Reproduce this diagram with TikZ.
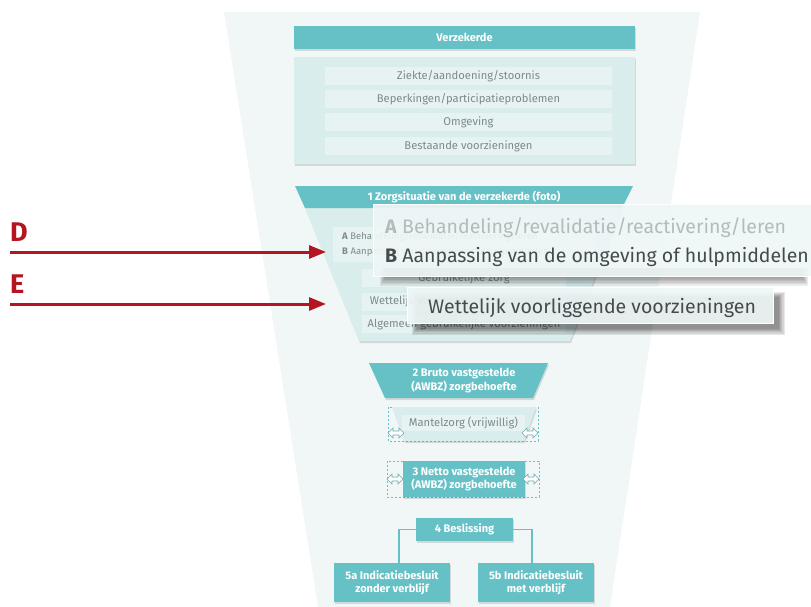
\documentclass[tikz,border=0pt]{standalone}
\usepackage{fontspec}
\setmainfont{Fira Sans}
\usetikzlibrary{shadows,arrows.meta,calc}
\definecolor{zteal}{HTML}{66C1C6}
\definecolor{zpanel}{HTML}{D9EDED}
\definecolor{zrow}{HTML}{E7F3F3}
\definecolor{zfunnel}{HTML}{F1F7F7}
\definecolor{zgray}{HTML}{7D8A8A}
\definecolor{zover}{HTML}{EEF6F6}
\definecolor{zred}{HTML}{B51521}
\definecolor{zdark}{HTML}{454B4C}
\definecolor{zlight}{HTML}{B3BCBC}
\definecolor{zarrow}{HTML}{6FA9AD}
\tikzset{
  softshadow/.style={drop shadow={shadow xshift=1pt, shadow yshift=-2pt, opacity=0.12, fill=black}},
  hdr/.style={fill=zteal, text=white, font=\bfseries\fontsize{11}{13.5}\selectfont, inner sep=0pt, align=center, softshadow},
  panelbox/.style={fill=zpanel, inner sep=0pt, softshadow},
  rowbox/.style={fill=zrow, inner sep=0pt, text=zgray, font=\fontsize{11.2}{12}\selectfont},
  smalltext/.style={text=zgray, font=\fontsize{9.5}{11}\selectfont, inner sep=0pt, anchor=base west},
  hdrtext/.style={text=white, font=\bfseries\fontsize{11}{13.5}\selectfont, inner sep=0pt, align=center},
  overlay/.style={fill=zover, fill opacity=0.92, draw=white, line width=0.6pt, inner sep=0pt},
  bigtext/.style={font=\fontsize{19.5}{22}\selectfont, inner sep=0pt, anchor=base west},
  dashbox/.style={draw=zteal, dashed, dash pattern=on 2pt off 2pt, line width=0.5pt},
  redarrow/.style={draw=zred, line width=3pt, -{Triangle[length=17pt,width=13pt]}},
  redlabel/.style={text=zred, font=\bfseries\fontsize{27}{30}\selectfont, inner sep=0pt},
  conn/.style={draw=zteal, line width=1.8pt},
  blurpiece/.style={fill=black, opacity=0.075},
  dbl/.pic={\draw[draw=zarrow, fill=white, line width=0.6pt, line join=miter]
     (-8,0) -- (-3,-5) -- (-3,-2) -- (3,-2) -- (3,-5) -- (8,0) -- (3,5) -- (3,2) -- (-3,2) -- (-3,5) -- cycle;}
}
\begin{document}
\begin{tikzpicture}[x=1pt,y=-1pt]
\useasboundingbox (0,0) rectangle (811,607);
% funnel background
\fill[zfunnel] (224,12) -- (700,12) -- (610,607) -- (318,607) -- cycle;

% Verzekerde
\node[hdr, minimum width=341, minimum height=23] (verz) at (464.5,37.5) {Verzekerde};
\node[panelbox, minimum width=341, minimum height=107] (pan) at (464.5,110.5) {};
\node[rowbox, minimum width=287, minimum height=18] (r1) at (468.5,76) {Ziekte/aandoening/stoornis};
\node[rowbox, minimum width=287, minimum height=18] (r2) at (468.5,99.5) {Beperkingen/participatieproblemen};
\node[rowbox, minimum width=287, minimum height=18] (r3) at (468.5,122.5) {Omgeving};
\node[rowbox, minimum width=287, minimum height=18] (r4) at (468.5,146) {Bestaande voorzieningen};

% 1 Zorgsituatie
\fill[zpanel, softshadow] (305,208) -- (622,208) -- (570,341) -- (359,341) -- cycle;
\fill[zteal] (295,186) -- (633,186) -- (622,208) -- (305,208) -- cycle;
\node[hdrtext] (h1) at (464,197) {1 Zorgsituatie van de verzekerde (foto)};

\fill[zrow] (333,227) rectangle (595,262);
\node[smalltext] (ta) at (342,239) {\textbf{A} Behandeling/revalidatie/reactivering/leren};
\node[smalltext] (tb) at (342,254) {\textbf{B} Aanpassing van de omgeving of hulpmiddelen};
\node[rowbox, minimum width=204, minimum height=18] (g1) at (464,278) {Gebruikelijke zorg};
\node[rowbox, minimum width=204, minimum height=18] (g2) at (464,301.5) {Wettelijk voorliggende voorzieningen};
\node[rowbox, minimum width=204, minimum height=18] (g3) at (464,324) {Algemeen gebruikelijke voorzieningen};

% overlays with soft shadows
\foreach \i in {0,...,5}
  \fill[blurpiece] (380+\i,268) rectangle (808-\i,286-1.6*\i);
\node[overlay, minimum width=438, minimum height=72] (ov1) at (592,240) {};
\node[bigtext, text=zlight] (ova) at (385,233) {\textbf{A} Behandeling/revalidatie/reactivering/leren};
\node[bigtext, text=zdark] (ovb) at (385,262) {\textbf{B} Aanpassing van de omgeving of hulpmiddelen};

\foreach \i in {0,...,5}
  \fill[blurpiece, opacity=0.09] (412+\i,292+\i) rectangle (785-1.3*\i,335-1.3*\i);
\node[overlay, minimum width=366, minimum height=36] (ov2) at (590,305) {};
\node[bigtext, text=zdark] (ovw) at (428,313) {Wettelijk voorliggende voorzieningen};

% red arrows
\coordinate (ds) at (10,252);
\coordinate (de) at (326,252);
\coordinate (es) at (10,304);
\coordinate (ee) at (326,304);
\node[redlabel, anchor=north west] (dl) at (10,223) {D};
\node[redlabel, anchor=north west] (el) at (10,275) {E};
\draw[redarrow] (ds) -- (de);
\draw[redarrow] (es) -- (ee);

% 2 Bruto
\fill[zteal, softshadow] (369,363) -- (548,363) -- (533,398) -- (385,398) -- cycle;
\node[hdrtext] (bruto) at (464,380.5) {2 Bruto vastgestelde\\(AWBZ) zorgbehoefte};

% Mantelzorg
\draw[dashbox] (388,407) rectangle (538,441);
\fill[zpanel, softshadow] (392,407) -- (536,407) -- (524,441) -- (404,441) -- cycle;
\node[rowbox, minimum width=123, minimum height=16] (mz) at (463.5,422.5) {Mantelzorg (vrijwillig)};
\pic at (396,433) {dbl};
\pic at (530,433) {dbl};

% 3 Netto
\draw[dashbox] (387,461) rectangle (539,497);
\node[hdr, minimum width=122, minimum height=36] (netto) at (464,479) {3 Netto vastgestelde\\(AWBZ) zorgbehoefte};
\pic at (395,479) {dbl};
\pic at (531,479) {dbl};

% 4 Beslissing
\node[hdr, minimum width=97, minimum height=23] (besl) at (464.5,529.5) {4 Beslissing};
\node[hdr, minimum width=116, minimum height=39] (a5) at (392,582.5) {5a Indicatiebesluit\\zonder verblijf};
\node[hdr, minimum width=116, minimum height=39] (b5) at (536,582.5) {5b Indicatiebesluit\\met verblijf};
\coordinate (ca) at (399,563);
\coordinate (cb) at (532,563);
\draw[conn] (besl.west) -| (ca);
\draw[conn] (besl.east) -| (cb);
\end{tikzpicture}
\end{document}
